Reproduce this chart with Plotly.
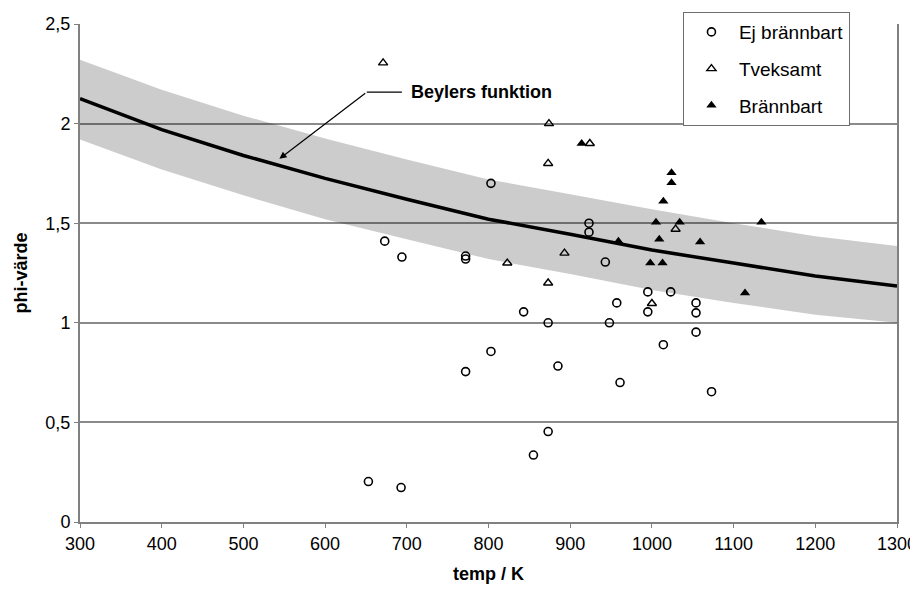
import plotly.graph_objects as go

# Beyler's function (curve) and its band
temp_grid = [300, 400, 500, 600, 700, 800, 900, 1000, 1100, 1200, 1300]
beyler = [2.125, 1.97, 1.84, 1.725, 1.62, 1.52, 1.445, 1.365, 1.30, 1.235, 1.185]
band_upper = [2.32, 2.17, 2.04, 1.925, 1.82, 1.72, 1.645, 1.57, 1.50, 1.435, 1.385]
band_lower = [1.92, 1.77, 1.64, 1.52, 1.42, 1.32, 1.245, 1.165, 1.10, 1.04, 1.00]

# Ej brännbart (open circles)
ej_temp = [803, 923, 923, 673, 694, 772, 772, 943, 957, 843, 873, 948, 995, 1023, 995,
           1054, 1054, 1054, 1014, 803, 772, 885, 961, 873, 855, 653, 693, 1073]
ej_phi = [1.70, 1.50, 1.455, 1.41, 1.33, 1.335, 1.32, 1.305, 1.10, 1.055, 1.00, 1.00, 1.155, 1.155, 1.055,
          1.10, 1.05, 0.953, 0.89, 0.856, 0.755, 0.783, 0.70, 0.454, 0.336, 0.203, 0.173, 0.654]

# Tveksamt (open triangles)
tv_temp = [671, 874, 873, 924, 893, 823, 873, 1029, 1000]
tv_phi = [2.305, 2.00, 1.80, 1.90, 1.35, 1.30, 1.20, 1.47, 1.097]

# Brännbart (filled triangles)
br_temp = [914, 1024, 1024, 1014, 1005, 1034, 1134, 959, 1009, 1059, 998, 1013, 1114]
br_phi = [1.90, 1.753, 1.703, 1.61, 1.505, 1.505, 1.505, 1.41, 1.42, 1.405, 1.30, 1.30, 1.15]

y_ticks = [0, 0.5, 1, 1.5, 2, 2.5]
y_tick_text = ["0", "0,5", "1", "1,5", "2", "2,5"]
x_ticks = [300, 400, 500, 600, 700, 800, 900, 1000, 1100, 1200, 1300]

FONT = "Liberation Sans, Arial, sans-serif"

fig = go.Figure()

fig.add_trace(go.Scatter(x=temp_grid, y=band_lower, mode="lines", line=dict(width=0),
                         showlegend=False, hoverinfo="skip"))
fig.add_trace(go.Scatter(x=temp_grid, y=band_upper, mode="lines", line=dict(width=0),
                         fill="tonexty", fillcolor="rgba(0,0,0,0.2)",
                         showlegend=False, hoverinfo="skip"))
fig.add_trace(go.Scatter(x=temp_grid, y=beyler, mode="lines", line=dict(color="black", width=3.5),
                         showlegend=False))

fig.add_trace(go.Scatter(x=ej_temp, y=ej_phi, mode="markers", name="Ej brännbart",
                         legendgroup="a",
                         marker=dict(symbol="circle-open", size=8, color="black",
                                     line=dict(width=1.6, color="black"))))
fig.add_trace(go.Scatter(x=tv_temp, y=tv_phi, mode="markers", name="Tveksamt",
                         legendgroup="b",
                         marker=dict(symbol="triangle-up-open", size=8, color="black",
                                     line=dict(width=1.4, color="black"))))
fig.add_trace(go.Scatter(x=br_temp, y=br_phi, mode="markers", name="Brännbart",
                         legendgroup="c",
                         marker=dict(symbol="triangle-up", size=9, color="black",
                                     line=dict(width=0))))

# annotation: Beylers funktion with bent arrow
fig.add_annotation(x=544, y=1.823, ax=651, ay=2.158, axref="x", ayref="y",
                   xref="x", yref="y", text="", showarrow=True,
                   arrowhead=2, arrowsize=1.2, arrowwidth=1.2, arrowcolor="black")
fig.add_shape(type="line", x0=651, y0=2.158, x1=694, y1=2.158, xref="x", yref="y",
              line=dict(color="black", width=1.2))
fig.add_annotation(x=703, y=2.158, xref="x", yref="y", text="<b>Beylers funktion</b>",
                   showarrow=False, xanchor="left", yanchor="middle",
                   font=dict(family=FONT, size=18, color="black"))

fig.update_layout(
    width=910, height=576,
    margin=dict(l=72, r=21, t=16, b=62, autoexpand=False),
    paper_bgcolor="white", plot_bgcolor="white",
    font=dict(family=FONT, size=18, color="black"),
    showlegend=True,
    legend=dict(x=0.738, y=1.024, xanchor="left", yanchor="top",
                bgcolor="white", bordercolor="#6e6e6e", borderwidth=1,
                traceorder="grouped", tracegroupgap=9,
                font=dict(family=FONT, size=19, color="black"),
                itemwidth=45),
    xaxis=dict(range=[300, 1300], tickvals=x_ticks, ticks="outside", ticklen=4,
               tickcolor="#808080", showgrid=False, showline=True, linecolor="#808080",
               linewidth=2, zeroline=False, automargin=False,
               title=dict(text="<b>temp / K</b>", font=dict(size=18), standoff=18),
               tickfont=dict(size=18)),
    yaxis=dict(range=[0, 2.5], tickvals=y_ticks, ticktext=y_tick_text, ticks="outside",
               ticklen=4, tickcolor="#808080", showgrid=True, gridcolor="#8a8a8a",
               gridwidth=1.5, showline=True, linecolor="#808080", linewidth=2,
               mirror=True, zeroline=False, automargin=False,
               title=dict(text="<b>phi-värde</b>", font=dict(size=18), standoff=13),
               tickfont=dict(size=18)),
)

fig.write_html("out.html")
